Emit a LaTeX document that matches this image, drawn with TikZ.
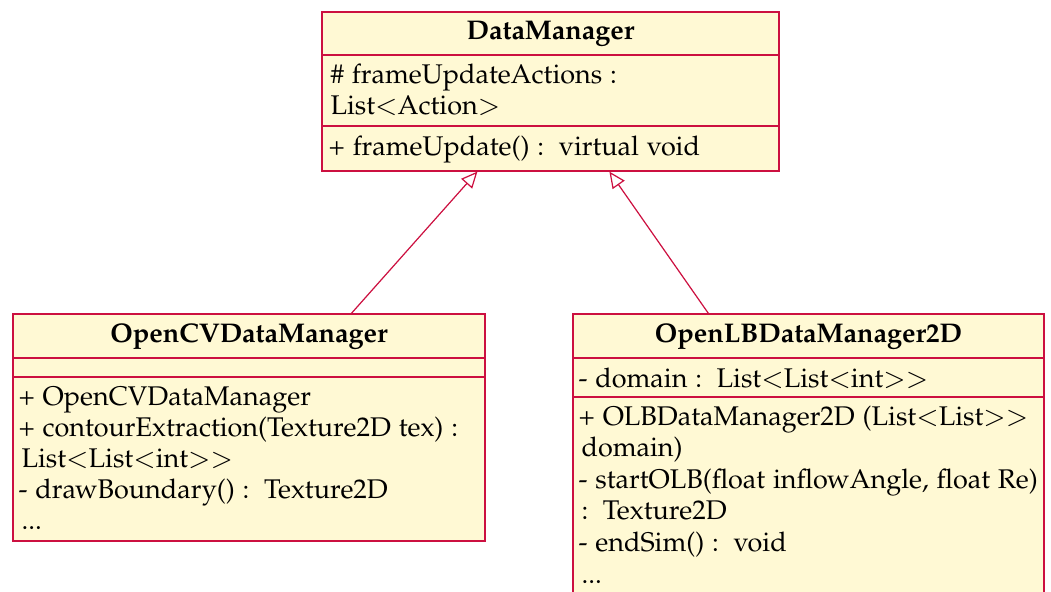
\documentclass[tikz,border=0pt]{standalone}
\usepackage[T1]{fontenc}
\usepackage[sc]{mathpazo}
\usetikzlibrary{arrows.meta,fit,calc}
\definecolor{umlfill}{RGB}{255,249,212}
\definecolor{umldraw}{RGB}{204,16,64}
\newcommand{\cln}{:\ \hspace{2.5pt}}
\tikzset{
  compart/.style={draw=umldraw, fill=umlfill, line width=0.45pt, inner sep=0pt},
  line/.style={anchor=base west, inner sep=0pt, font=\fontsize{10}{12}\selectfont},
  head/.style={inner sep=0pt, font=\fontsize{10}{12}\selectfont\bfseries},
  inh/.style={draw=umldraw, line width=0.45pt, -{Triangle[open, length=6pt, width=5.4pt]}}
}
\begin{document}
\begin{tikzpicture}[x=0.3705pt, y=-0.3705pt]
\useasboundingbox (0,0) rectangle (1051,591);
\clip (0,0) rectangle (1051,591);
% DataManager
\node[compart, fit={(322,12) (779,55)}] (dmh) {};
\node[head] (dmt) at (dmh.center) {DataManager};
\node[compart, fit={(322,55) (779,126)}] (dma) {};
\node[compart, fit={(322,126) (779,171)}] (dmo) {};
\node[line] (dm1) at (330,83) {\# frameUpdateActions :};
\node[line] (dm2) at (330,114) {List$<$Action$>$};
\node[line] (dm3) at (328,155) {+ frameUpdate() \cln virtual void};
% OpenCVDataManager
\node[compart, fit={(13,314) (485,358)}] (cvh) {};
\node[head] (cvt) at (cvh.center) {OpenCVDataManager};
\node[compart, fit={(13,358) (485,377)}] (cva) {};
\node[compart, fit={(13,377) (485,541)}] (cvo) {};
\node[line] (cv1) at (18,405) {+ OpenCVDataManager};
\node[line] (cv2) at (18,436) {+ contourExtraction(Texture2D tex) :};
\node[line] (cv3) at (21,467) {List$<$List$<$int$>>$};
\node[line] (cv4) at (18,498) {- drawBoundary() \cln Texture2D};
\node[line] (cv5) at (21,529) {...};
% OpenLBDataManager2D
\node[compart, fit={(573,314) (1044,358)}] (lbh) {};
\node[head] (lbt) at (lbh.center) {OpenLBDataManager2D};
\node[compart, fit={(573,358) (1044,397)}] (lba) {};
\node[compart, fit={(573,397) (1044,640)}] (lbo) {};
\node[line] (lb0) at (578,387) {- domain \cln List$<$List$<$int$>>$};
\node[line] (lb1) at (578,425) {+ OLBDataManager2D (List$<$List$>>$};
\node[line] (lb2) at (581,456) {domain)};
\node[line] (lb3) at (578,488) {- startOLB(float inflowAngle, float Re)};
\node[line] (lb4) at (581,519) {\cln Texture2D};
\node[line] (lb5) at (578,551) {- endSim() \cln void};
\node[line] (lb6) at (581,583) {...};
% inheritance
\draw[inh] ($(cvh.north west)+(339,0)$) -- ($(dmo.south west)+(156,0)$);
\draw[inh] ($(lbh.north west)+(136,0)$) -- ($(dmo.south west)+(288,0)$);
\end{tikzpicture}
\end{document}
